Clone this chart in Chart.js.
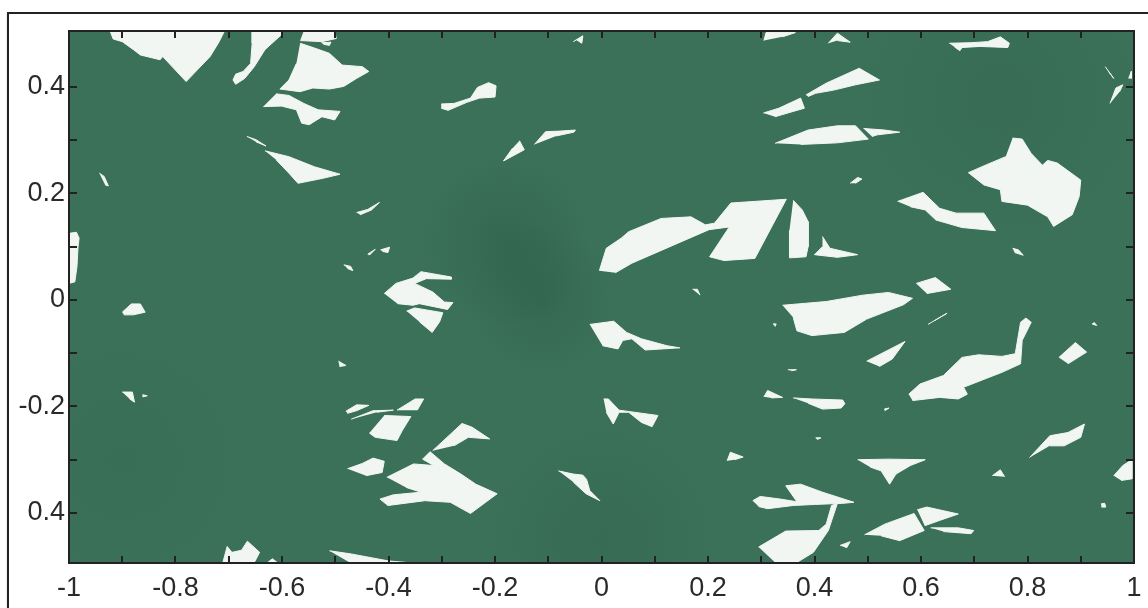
<!DOCTYPE html>
<html>
<head>
<meta charset="utf-8">
<script src="https://cdn.jsdelivr.net/npm/chart.js@4"></script>
<style>
  html, body { margin: 0; padding: 0; background: #fff; overflow: hidden; }
  #wrap { position: relative; width: 1148px; height: 608px; }
  #frame { position: absolute; left: 7px; top: 12px; right: -10px; bottom: -10px; border: 2px solid #222; box-shadow: 0 1px 1px #999; }
  canvas { position: absolute; left: 0; top: 0; }
</style>
</head>
<body>
<div id="wrap">
  <div id="frame"></div>
  <canvas id="myChart" width="1148" height="608"></canvas>
</div>
<script>
const xTickValues = [-1, -0.9, -0.8, -0.7, -0.6, -0.5, -0.4, -0.3, -0.2, -0.1, 0, 0.1, 0.2, 0.3, 0.4, 0.5, 0.6, 0.7, 0.8, 0.9, 1];
const xTickLabels = ["-1", "", "-0.8", "", "-0.6", "", "-0.4", "", "-0.2", "", "0", "", "0.2", "", "0.4", "", "0.6", "", "0.8", "", "1"];
const yTickValues = [0.4, 0.3, 0.2, 0.1, 0, -0.1, -0.2, -0.3, -0.4];
// bottom label really reads 0.4 in the original, no minus sign
const yTickLabels = ["0.4", "", "0.2", "", "0", "", "-0.2", "", "0.4"];

// white patches, [x, y] outlines
const patchesTopLeft = [
  [[-.922,.503],[-.917,.490],[-.900,.485],[-.879,.470],[-.866,.460],[-.829,.451],[-.824,.457],[-.780,.410],[-.759,.432],[-.735,.457],[-.718,.485],[-.709,.503]],
  [[-.656,.503],[-.656,.482],[-.659,.444],[-.673,.429],[-.687,.424],[-.692,.413],[-.687,.405],[-.670,.416],[-.652,.438],[-.632,.470],[-.601,.498],[-.601,.503]],
  [[-.559,.503],[-.565,.487],[-.525,.485],[-.498,.491],[-.501,.503]],
  [[-.526,.483],[-.508,.484],[-.511,.478],[-.522,.480]],
  [[-.566,.482],[-.539,.473],[-.511,.463],[-.487,.441],[-.449,.438],[-.437,.429],[-.460,.416],[-.484,.401],[-.511,.396],[-.542,.398],[-.566,.391],[-.604,.396],[-.587,.413],[-.573,.444]],
  [[-.611,.387],[-.587,.384],[-.559,.369],[-.532,.357],[-.491,.354],[-.501,.338],[-.525,.344],[-.549,.329],[-.563,.332],[-.573,.357],[-.601,.364],[-.635,.363]],
  [[-.301,.368],[-.277,.369],[-.246,.379],[-.233,.399],[-.212,.408],[-.198,.402],[-.200,.381],[-.229,.379],[-.253,.371],[-.288,.356],[-.301,.360]],
  [[-.666,.307],[-.649,.301],[-.630,.289],[-.649,.297]],
  [[-.632,.280],[-.587,.269],[-.539,.250],[-.491,.236],[-.525,.228],[-.570,.219],[-.587,.238],[-.611,.263]],
  [[-.943,.238],[-.934,.232],[-.926,.214],[-.932,.216]],
  [[-1,.125],[-.986,.127],[-.981,.116],[-.983,.100],[-.985,.063],[-.989,.034],[-1,.031]],
  [[-.460,.164],[-.439,.170],[-.417,.183],[-.432,.169],[-.453,.160]],
  [[-.415,.094],[-.398,.099],[-.401,.089],[-.411,.091]],
  [[-.439,.086],[-.425,.095],[-.436,.084]],
  [[-.484,.066],[-.471,.063],[-.467,.055],[-.477,.059]],
  [[-.408,.012],[-.386,.031],[-.354,.041],[-.348,.046],[-.339,.053],[-.282,.043],[-.282,.039],[-.329,.040],[-.351,.031],[-.317,.015],[-.295,-.004],[-.279,-.005],[-.289,-.018],[-.342,-.007],[-.354,-.010],[-.383,-.007]],
  [[-.154,.299],[-.145,.282],[-.184,.261],[-.167,.285]],
  [[-.126,.292],[-.105,.316],[-.078,.317],[-.049,.319],[-.052,.315],[-.085,.308]],
];

const patchesTopRight = [
  [[-.053,.485],[-.035,.496],[-.037,.482],[-.046,.488]],
  [[.305,.487],[.309,.502],[.364,.502],[.340,.494]],
  [[.426,.482],[.443,.501],[.467,.484],[.443,.487]],
  [[.653,.482],[.694,.483],[.725,.485],[.749,.494],[.766,.482],[.763,.474],[.711,.476],[.677,.474],[.673,.468],[.663,.475]],
  [[.384,.385],[.422,.407],[.484,.435],[.522,.413],[.477,.404],[.436,.394],[.402,.388],[.388,.382]],
  [[.304,.351],[.333,.360],[.374,.379],[.381,.360],[.360,.354],[.326,.344]],
  [[.326,.294],[.388,.319],[.443,.327],[.477,.327],[.501,.302],[.443,.295],[.374,.292]],
  [[.492,.322],[.532,.319],[.560,.315],[.518,.310],[.508,.307]],
  [[.772,.304],[.790,.302],[.807,.275],[.828,.253],[.838,.262],[.856,.257],[.900,.225],[.897,.194],[.884,.160],[.849,.138],[.838,.156],[.800,.178],[.752,.185],[.749,.207],[.718,.216],[.689,.239],[.721,.253],[.759,.269]],
  [[.467,.219],[.481,.230],[.489,.227],[.477,.219]],
  [[.556,.185],[.604,.202],[.635,.172],[.666,.163],[.718,.163],[.740,.130],[.677,.136],[.628,.150],[.608,.169],[.580,.175]],
  [[-.004,.055],[.009,.097],[.037,.116],[.051,.128],[.112,.153],[.168,.156],[.195,.141],[.212,.144],[.243,.182],[.347,.189],[.288,.078],[.230,.074],[.203,.081],[.240,.137],[.202,.132],[.057,.069],[.026,.051]],
  [[.360,.187],[.377,.169],[.388,.147],[.388,.100],[.384,.081],[.353,.079],[.353,.131]],
  [[.415,.119],[.429,.097],[.481,.085],[.443,.080],[.400,.085],[.415,.100]],
  [[.772,.097],[.783,.094],[.792,.084],[.776,.089]],
  [[.591,.031],[.627,.042],[.656,.020],[.611,.012]],
  [[.171,.020],[.180,.020],[.185,.009]],
  [[.955,.369],[.966,.398],[.979,.404],[.973,.391]],
  [[.990,.416],[.995,.429],[.995,.416]],
  [[.946,.438],[.962,.416],[.952,.429]],
  [[.340,-.010],[.422,-.003],[.491,.009],[.539,.014],[.584,.003],[.567,-.009],[.498,-.036],[.456,-.061],[.395,-.067],[.367,-.058],[.360,-.033]],
];

const patchesBottomLeft = [
  [[-.900,-.023],[-.883,-.0075],[-.866,-.0075],[-.857,-.023],[-.879,-.028],[-.897,-.028]],
  [[-.366,-.021],[-.351,-.015],[-.298,-.024],[-.304,-.041],[-.318,-.061],[-.342,-.041]],
  [[-.494,-.115],[-.480,-.123],[-.492,-.125]],
  [[-.900,-.173],[-.881,-.173],[-.877,-.192],[-.886,-.186]],
  [[-.862,-.178],[-.853,-.180],[-.862,-.182]],
  [[-.480,-.209],[-.460,-.197],[-.437,-.198],[-.460,-.208],[-.477,-.213]],
  [[-.470,-.224],[-.429,-.208],[-.391,-.207],[-.422,-.211]],
  [[-.384,-.207],[-.350,-.186],[-.334,-.186],[-.346,-.207]],
  [[-.408,-.217],[-.358,-.219],[-.374,-.245],[-.384,-.264],[-.425,-.258],[-.436,-.250]],
  [[-.317,-.283],[-.262,-.232],[-.243,-.239],[-.210,-.261],[-.250,-.258],[-.277,-.274]],
  [[-.477,-.317],[-.449,-.307],[-.429,-.297],[-.408,-.303],[-.412,-.324],[-.442,-.330]],
  [[-.403,-.333],[-.353,-.308],[-.315,-.311],[-.336,-.299],[-.322,-.285],[-.295,-.308],[-.264,-.327],[-.236,-.346],[-.196,-.364],[-.246,-.401],[-.284,-.380],[-.332,-.377],[-.401,-.386],[-.416,-.374],[-.391,-.366],[-.339,-.361],[-.367,-.352]],
  [[-.711,-.493],[-.703,-.463],[-.694,-.474],[-.676,-.470],[-.665,-.453],[-.642,-.474],[-.652,-.493]],
  [[-.627,-.493],[-.618,-.486],[-.609,-.493]],
  [[-.511,-.471],[-.470,-.477],[-.401,-.490],[-.367,-.493],[-.473,-.493]],
  [[-.081,-.321],[-.053,-.327],[-.035,-.329],[-.028,-.337],[-.022,-.358],[-.003,-.377],[-.029,-.364],[-.053,-.342]],
];

const patchesBottomRight = [
  [[-.022,-.046],[.023,-.040],[.047,-.061],[.075,-.073],[.123,-.086],[.147,-.090],[.082,-.094],[.057,-.073],[.040,-.076],[.031,-.092],[.002,-.086]],
  [[.613,-.046],[.649,-.025],[.625,-.039]],
  [[.498,-.115],[.570,-.078],[.546,-.111],[.522,-.125]],
  [[.577,-.177],[.598,-.158],[.642,-.142],[.677,-.108],[.708,-.103],[.752,-.106],[.777,-.101],[.787,-.042],[.797,-.034],[.807,-.042],[.790,-.076],[.787,-.120],[.752,-.136],[.721,-.148],[.680,-.164],[.687,-.177],[.670,-.186],[.635,-.183],[.584,-.189]],
  [[.859,-.108],[.890,-.080],[.911,-.098],[.876,-.120]],
  [[.921,-.045],[.930,-.048],[.925,-.042]],
  [[.322,-.045],[.328,-.045],[.326,-.050]],
  [[.350,-.131],[.366,-.131],[.357,-.133]],
  [[.305,-.182],[.312,-.170],[.340,-.183],[.319,-.184]],
  [[.360,-.184],[.395,-.186],[.453,-.188],[.457,-.195],[.450,-.203],[.415,-.205],[.388,-.194]],
  [[.004,-.186],[.013,-.186],[.033,-.207],[.106,-.217],[.095,-.238],[.075,-.230],[.051,-.211],[.033,-.211],[.022,-.233],[.009,-.211]],
  [[.531,-.205],[.540,-.203],[.532,-.208]],
  [[.402,-.259],[.412,-.259],[.405,-.262]],
  [[.804,-.296],[.842,-.255],[.876,-.249],[.907,-.233],[.900,-.258],[.869,-.274],[.842,-.274]],
  [[.236,-.302],[.242,-.286],[.266,-.295],[.250,-.300]],
  [[.481,-.300],[.539,-.299],[.608,-.300],[.580,-.311],[.553,-.327],[.541,-.346],[.525,-.321],[.505,-.314]],
  [[.734,-.330],[.749,-.319],[.757,-.332]],
  [[.962,-.330],[.979,-.311],[.996,-.300],[.996,-.336],[.976,-.339]],
  [[.938,-.383],[.945,-.382],[.947,-.389],[.939,-.389]],
  [[.284,-.377],[.298,-.369],[.336,-.374],[.367,-.379],[.346,-.349],[.374,-.346],[.415,-.361],[.474,-.380],[.453,-.382],[.402,-.384],[.360,-.386],[.312,-.392],[.295,-.388]],
  [[.295,-.464],[.346,-.434],[.408,-.433],[.422,-.421],[.432,-.386],[.443,-.382],[.426,-.433],[.398,-.474],[.367,-.493],[.326,-.493]],
  [[.448,-.461],[.467,-.454],[.460,-.466]],
  [[.494,-.441],[.532,-.421],[.587,-.401],[.606,-.433],[.560,-.452],[.525,-.443]],
  [[.593,-.394],[.611,-.389],[.670,-.402],[.635,-.414],[.607,-.424]],
  [[.618,-.428],[.670,-.428],[.699,-.433],[.694,-.439],[.642,-.435]],
];

// darker blotches in the green: x, y, radius (x units), strength
const darkSpots = [
  [-0.18, 0.11, 0.16, 0.16],
  [-0.11, 0.0, 0.14, 0.14],
  [0.0, -0.45, 0.22, 0.10],
  [0.75, 0.38, 0.28, 0.08],
  [-0.9, -0.3, 0.25, 0.05],
];

const allPatches = [...patchesTopLeft, ...patchesTopRight, ...patchesBottomLeft, ...patchesBottomRight];

const fieldBackground = {
  id: "fieldBackground",
  beforeDatasetsDraw(chart) {
    const { ctx, chartArea: a, scales } = chart;
    ctx.save();
    ctx.fillStyle = "#3b7159";
    ctx.fillRect(a.left, a.top, a.width, a.height);
    darkSpots.forEach((s) => {
      const px = scales.x.getPixelForValue(s[0]);
      const py = scales.y.getPixelForValue(s[1]);
      const r = scales.x.getPixelForValue(s[2]) - scales.x.getPixelForValue(0);
      const g = ctx.createRadialGradient(px, py, 0, px, py, r);
      g.addColorStop(0, "rgba(25,60,45," + s[3] * 1.2 + ")");
      g.addColorStop(1, "rgba(25,60,45,0)");
      ctx.fillStyle = g;
      ctx.save();
      ctx.beginPath();
      ctx.rect(a.left, a.top, a.width, a.height);
      ctx.clip();
      ctx.fillRect(px - r, py - r, r * 2, r * 2);
      ctx.restore();
    });
    ctx.restore();
  },
};

const tickFont = { family: "'Liberation Sans', Arial, sans-serif", size: 27 };

function axis(values, labels, position, length, padding, show, fit) {
  return {
    type: "linear",
    position: position,
    afterBuildTicks: (scale) => {
      scale.ticks = values.map((v) => ({ value: v }));
    },
    afterFit: (s) => {
      fit(s);
      // labels may hang over the plot edge, dont let them shrink it
      s.paddingLeft = s.paddingRight = s.paddingTop = s.paddingBottom = 0;
    },
    border: { display: true, color: "#222", width: 2, z: 1 },
    grid: { display: true, drawOnChartArea: false, drawTicks: true, color: "#222", lineWidth: 2, tickLength: length, z: 1 },
    ticks: {
      display: show,
      autoSkip: false,
      maxRotation: 0,
      minRotation: 0,
      padding: padding,
      color: "#2a2a2a",
      font: tickFont,
      callback: (v, i) => labels[i],
    },
  };
}

new Chart(document.getElementById("myChart"), {
  type: "line",
  data: {
    datasets: allPatches.map((p) => ({
      data: p.map((pt) => ({ x: pt[0], y: pt[1] })),
      fill: "shape",
      backgroundColor: "#f1f6f2",
      borderColor: "#f1f6f2",
      borderWidth: 1,
      pointRadius: 0,
      tension: 0,
    })),
  },
  options: {
    responsive: false,
    animation: false,
    plugins: { legend: { display: false }, tooltip: { enabled: false } },
    layout: { padding: 0 },
    scales: {
      x: { ...axis(xTickValues, xTickLabels, "bottom", -7, 16, true, (s) => { s.height = 45; }), min: -1, max: 1 },
      y: { ...axis(yTickValues, yTickLabels, "left", -8, 12, true, (s) => { s.width = 69; }), min: -0.494, max: 0.505 },
      x2: { ...axis(xTickValues, xTickLabels, "top", -7, 0, false, (s) => { s.height = 31; }), min: -1, max: 1 },
      y2: { ...axis(yTickValues, yTickLabels, "right", -8, 0, false, (s) => { s.width = 14; }), min: -0.494, max: 0.505 },
    },
  },
  plugins: [fieldBackground],
});
</script>
</body>
</html>
